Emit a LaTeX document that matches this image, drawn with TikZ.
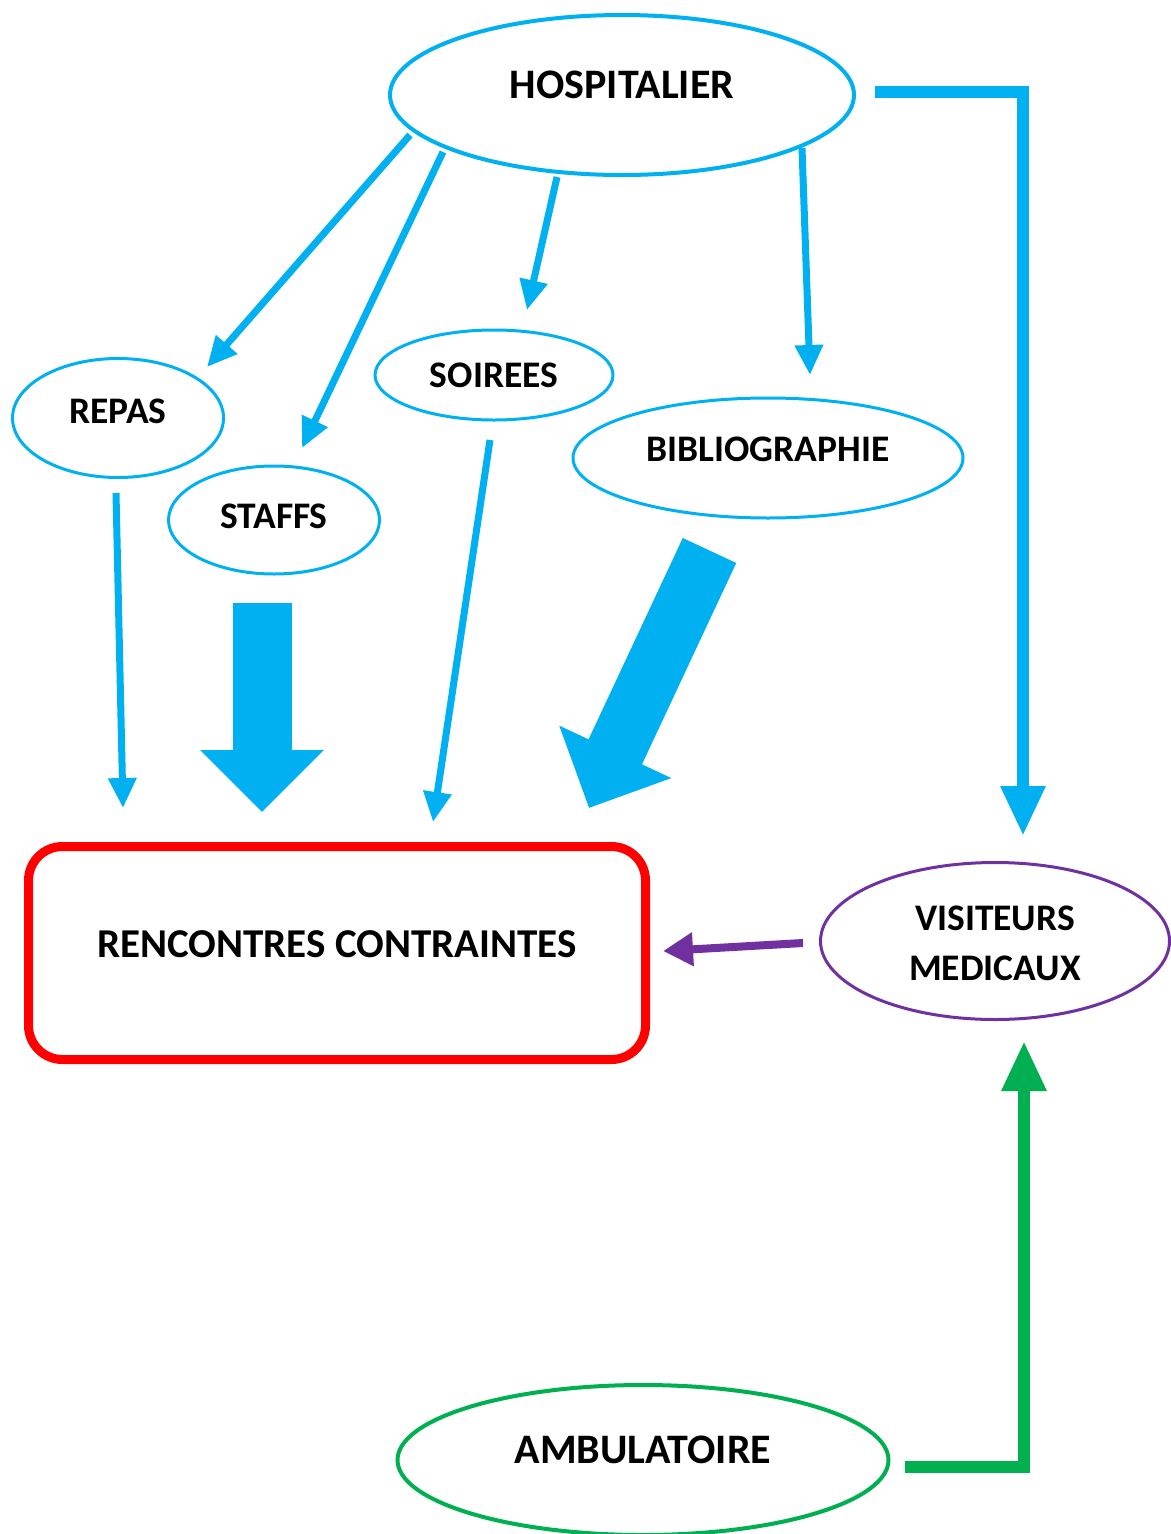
\documentclass[tikz,border=0pt]{standalone}
\usepackage{fontspec}
\setmainfont{Carlito}
\usetikzlibrary{shapes.geometric,arrows.meta}
\definecolor{cyanb}{HTML}{00B0F0}
\definecolor{redb}{HTML}{FF0000}
\definecolor{purpb}{HTML}{7030A0}
\definecolor{greenb}{HTML}{00B050}
\tikzset{
  ell/.style={ellipse, draw=cyanb, line width=3pt, inner sep=0pt, font=\bfseries\fontsize{37.5}{44}\selectfont},
  thinarr/.style={cyanb, line width=7pt, -{Triangle[length=30pt,width=27pt]}},
  bigarr/.style={cyanb, line width=59pt, -{Triangle[length=62pt,width=120pt]}},
  elbowarr/.style={line width=12pt, line join=miter, -{Triangle[length=50pt,width=42pt]}}
}
\begin{document}
\begin{tikzpicture}[x=1pt,y=-1pt]
\useasboundingbox (0,0) rectangle (1170,1534);
% nodes
\node[ell, line width=4pt, minimum width=464pt, minimum height=160pt, font=\bfseries\fontsize{42}{48}\selectfont] (hosp) at (622,95) {\raisebox{21pt}{HOSPITALIER}};
\node[ell, minimum width=211pt, minimum height=119pt] (repas) at (118,418) {\raisebox{13pt}{REPAS}};
\node[ell, minimum width=211pt, minimum height=108pt] (staffs) at (274,520) {\raisebox{8pt}{STAFFS}};
\node[ell, minimum width=238pt, minimum height=90pt] (soirees) at (494,375) {\raisebox{-1pt}{SOIREES}};
\node[ell, minimum width=390pt, minimum height=120pt] (biblio) at (768,458) {\raisebox{17pt}{BIBLIOGRAPHIE}};
\node[draw=redb, line width=9pt, rounded corners=34pt, minimum width=617pt, minimum height=213pt, inner sep=0pt, font=\bfseries\fontsize{41}{48}\selectfont] (renc) at (337,953) {\raisebox{18pt}{RENCONTRES CONTRAINTES}};
\node[ellipse, draw=purpb, line width=3pt, minimum width=349pt, minimum height=157pt, inner sep=0pt, font=\bfseries\fontsize{37.5}{50}\selectfont] (visit) at (995,941) {\raisebox{-4pt}[\height][\depth]{\begin{tabular}{@{}c@{}}VISITEURS\\MEDICAUX\end{tabular}}};
\node[ellipse, draw=greenb, line width=4pt, minimum width=491pt, minimum height=150pt, inner sep=0pt, font=\bfseries\fontsize{42}{48}\selectfont] (amb) at (643,1460) {\raisebox{21pt}{AMBULATOIRE}};
% coordinates
\coordinate (h1) at (410,135); \coordinate (t1) at (207,367);
\coordinate (h2) at (443,152); \coordinate (t2) at (302,448);
\coordinate (h3) at (557,177); \coordinate (t3) at (527,310);
\coordinate (h4) at (802,148); \coordinate (t4) at (810,375);
\coordinate (r1) at (116,493); \coordinate (r2) at (123,808);
\coordinate (s1) at (490,440); \coordinate (s2) at (433,822);
\coordinate (st1) at (262,603); \coordinate (st2) at (262,812);
\coordinate (b1) at (709.5,550.5); \coordinate (b2) at (589,808);
\coordinate (hr) at (875,92); \coordinate (hc) at (1023,92); \coordinate (vt) at (1023,836);
\coordinate (v1) at (803,943); \coordinate (v2) at (663,951);
\coordinate (a1) at (905,1467); \coordinate (ac) at (1024,1467); \coordinate (vb) at (1024,1041);
% connectors
\draw[thinarr] (h1) -- (t1);
\draw[thinarr] (h2) -- (t2);
\draw[thinarr] (h3) -- (t3);
\draw[thinarr] (h4) -- (t4);
\draw[thinarr] (r1) -- (r2);
\draw[thinarr] (s1) -- (s2);
\draw[bigarr] (st1) -- (st2);
\draw[bigarr] (b1) -- (b2);
\draw[elbowarr, cyanb] (hr) -- (hc) -- (vt);
\draw[purpb, line width=8pt, -{Triangle[length=30pt,width=32pt]}] (v1) -- (v2);
\draw[elbowarr, greenb] (a1) -- (ac) -- (vb);
\end{tikzpicture}
\end{document}
